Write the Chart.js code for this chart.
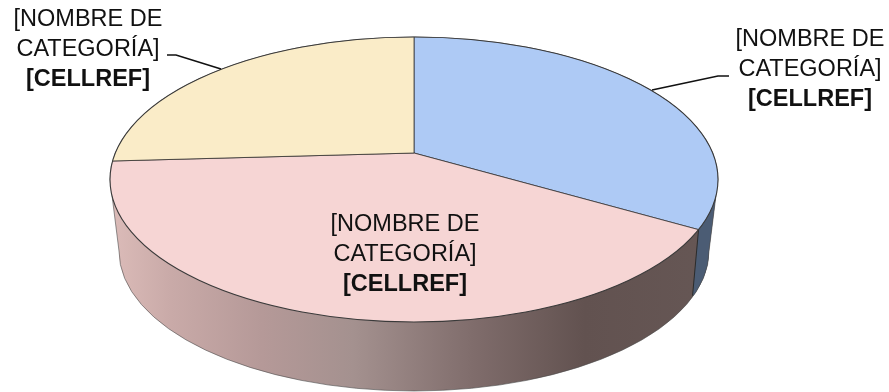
<!DOCTYPE html>
<html>
<head>
<meta charset="utf-8">
<title>Pie</title>
<script src="https://cdn.jsdelivr.net/npm/chart.js@4"></script>
<style>
  html, body { margin: 0; padding: 0; background: #fff; overflow: hidden; }
  canvas { display: block; }
</style>
</head>
<body>
<canvas id="pie" width="889" height="392"></canvas>
<script>
// Data (blue, pink, yellow)
const categories = ["[NOMBRE DE CATEGORÍA]", "[NOMBRE DE CATEGORÍA]", "[NOMBRE DE CATEGORÍA]"];
const values = [33.3, 40.8, 25.9];
const valueLabels = ["[CELLREF]", "[CELLREF]", "[CELLREF]"];
const colors = ["#aecaf5", "#f6d5d4", "#faecc8"];

// Tilted disc: outline of the top face and of the bottom face
const top3d = { x: 414, y: 179.5, rx: 304, ry: 142.5 };
const bottom3d = { x: 414, y: 251, rx: 295, ry: 140 };
const squash = top3d.ry / top3d.rx;

// Label anchors and leader lines
const labelCenters = [[810, 40], [405, 225], [88, 20]];
const leaders = [
  [[652, 90], [718, 76], [729, 76]],
  null,
  [[167, 55], [176, 55], [221, 69]],
];

function ellipsePath(ctx, e, start, end) {
  ctx.ellipse(e.x, e.y, e.rx, e.ry, 0, start, end);
}

// where the ray from the hub at screen angle a hits the top ellipse
function rimPoint(hx, hy, a) {
  const dx = Math.cos(a), dy = Math.sin(a) * squash;
  const ox = (hx - top3d.x) / top3d.rx, oy = (hy - top3d.y) / top3d.ry;
  const ax = dx / top3d.rx, ay = dy / top3d.ry;
  const A = ax * ax + ay * ay, B = 2 * (ox * ax + oy * ay), C = ox * ox + oy * oy - 1;
  const t = (-B + Math.sqrt(B * B - 4 * A * C)) / (2 * A);
  return { x: hx + dx * t, y: hy + dy * t };
}

function wallShape(ctx) {
  ctx.beginPath();
  ellipsePath(ctx, top3d, Math.PI, 0);
  ctx.lineTo(bottom3d.x + bottom3d.rx, bottom3d.y);
  ellipsePath(ctx, bottom3d, 0, Math.PI);
  ctx.closePath();
}

const disc3d = {
  id: "disc3d",
  beforeDatasetsDraw(chart) {
    const ctx = chart.ctx;
    const arcs = chart.getDatasetMeta(0).data;
    const hub = arcs[0];
    const seam = rimPoint(hub.x, hub.y, arcs[0].endAngle);

    // side wall of the pink slice
    const grad = ctx.createLinearGradient(top3d.x - top3d.rx, 0, top3d.x + top3d.rx, 0);
    grad.addColorStop(0, "#dcbcb9");
    grad.addColorStop(0.1, "#c9aaa8");
    grad.addColorStop(0.25, "#b59998");
    grad.addColorStop(0.4, "#a4918f");
    grad.addColorStop(0.6, "#7f6c6b");
    grad.addColorStop(0.78, "#625250");
    grad.addColorStop(1, "#665755");
    ctx.save();
    wallShape(ctx);
    ctx.fillStyle = grad;
    ctx.fill();

    // side wall of the blue slice, right of the seam
    ctx.save();
    wallShape(ctx);
    ctx.clip();
    ctx.beginPath();
    ctx.moveTo(seam.x, seam.y);
    ctx.lineTo(seam.x - 6, seam.y + 66);
    ctx.lineTo(889, seam.y + 66);
    ctx.lineTo(889, seam.y - 80);
    ctx.lineTo(seam.x, seam.y - 80);
    ctx.closePath();
    ctx.fillStyle = "#4b5c74";
    ctx.fill();
    ctx.strokeStyle = "#2b2b2b";
    ctx.lineWidth = 1;
    ctx.beginPath();
    ctx.moveTo(seam.x, seam.y);
    ctx.lineTo(seam.x - 6, seam.y + 66);
    ctx.stroke();
    ctx.restore();

    wallShape(ctx);
    ctx.strokeStyle = "#4a4a4a";
    ctx.lineWidth = 0.6;
    ctx.stroke();
    ctx.restore();

    // top face: slices from the hub, cut to the ellipse and squashed
    ctx.save();
    ctx.beginPath();
    ellipsePath(ctx, top3d, 0, Math.PI * 2);
    ctx.clip();
    ctx.translate(hub.x, hub.y);
    ctx.scale(1, squash);
    ctx.translate(-hub.x, -hub.y);
  },
  afterDatasetsDraw(chart) {
    const ctx = chart.ctx;
    ctx.restore();

    ctx.save();
    ctx.beginPath();
    ellipsePath(ctx, top3d, 0, Math.PI * 2);
    ctx.strokeStyle = "#3a3a3a";
    ctx.lineWidth = 1.1;
    ctx.stroke();

    ctx.strokeStyle = "#111";
    ctx.lineWidth = 1.6;
    leaders.forEach((line) => {
      if (!line) return;
      ctx.beginPath();
      line.forEach((p, i) => (i ? ctx.lineTo(p[0], p[1]) : ctx.moveTo(p[0], p[1])));
      ctx.stroke();
    });

    ctx.fillStyle = "#111";
    ctx.textAlign = "center";
    ctx.textBaseline = "middle";
    categories.forEach((name, i) => {
      const [x, y] = labelCenters[i];
      const cut = name.indexOf(" CATEGOR");
      ctx.font = '23.5px "Liberation Sans"';
      ctx.fillText(name.slice(0, cut), x, y);
      ctx.fillText(name.slice(cut + 1), x, y + 30);
      ctx.font = 'bold 23.5px "Liberation Sans"';
      ctx.fillText(valueLabels[i], x, y + 60);
    });
    ctx.restore();
  },
};

new Chart(document.getElementById("pie"), {
  type: "pie",
  data: {
    labels: categories,
    datasets: [
      {
        data: values,
        backgroundColor: colors,
        borderColor: "#2a2a2a",
        borderWidth: 1,
        clip: false,
      },
    ],
  },
  options: {
    responsive: false,
    animation: false,
    radius: 800,
    // puts the hub of the pie where it sits in the picture
    layout: { padding: { left: 0, right: 61, top: 0, bottom: 86 } },
    plugins: { legend: { display: false }, tooltip: { enabled: false } },
  },
  plugins: [disc3d],
});
</script>
</body>
</html>
